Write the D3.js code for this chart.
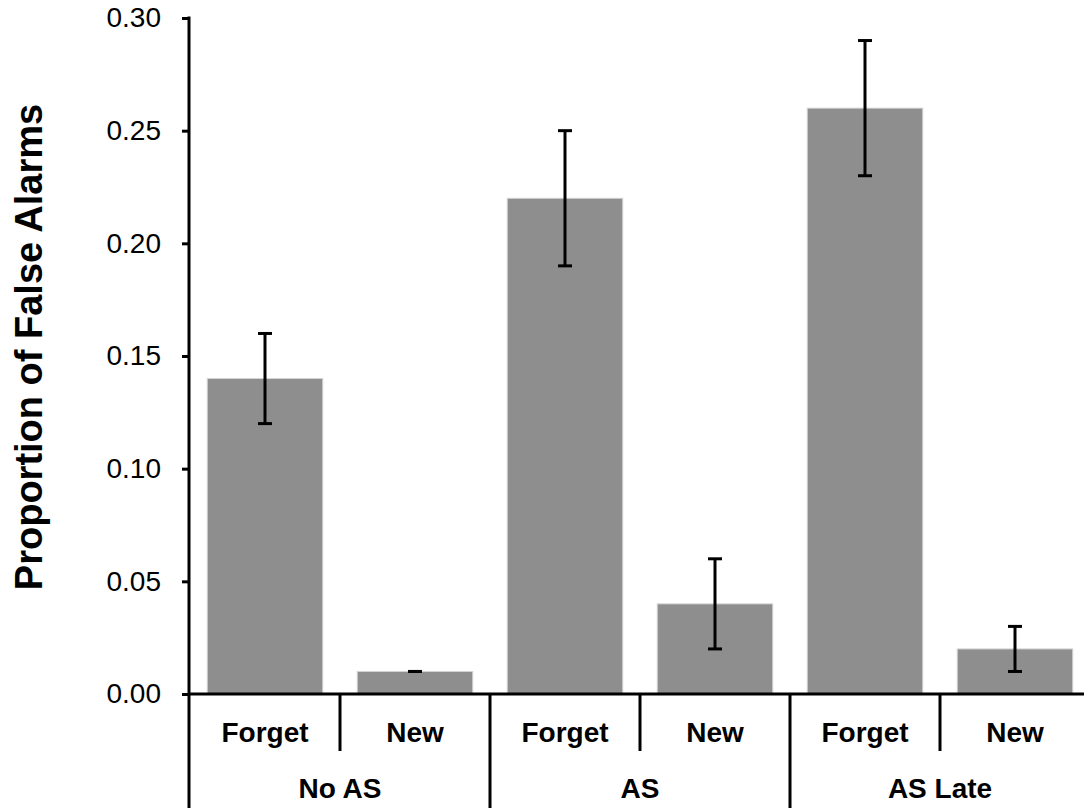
<!DOCTYPE html>
<html>
<head>
<meta charset="utf-8">
<script src="https://cdnjs.cloudflare.com/ajax/libs/d3/7.8.5/d3.min.js"></script>
<style>
  body { margin: 0; background: #fff; }
  svg { display: block; font-family: "Liberation Sans", Arial, sans-serif; }
</style>
</head>
<body>
<svg id="chart" width="1084" height="809"></svg>
<script>
// data
const groups = ['No AS', 'AS', 'AS Late']
const conditions = ['Forget', 'New']
const values = [0.14, 0.01, 0.22, 0.04, 0.26, 0.02]
const errLow = [0.12, 0.01, 0.19, 0.02, 0.23, 0.01]
const errHigh = [0.16, 0.01, 0.25, 0.06, 0.29, 0.03]
const yTicks = [0, 0.05, 0.10, 0.15, 0.20, 0.25, 0.30]

const svg = d3.select('#chart')
const axisX = 189, baseY = 694, bottom = 808

const bars = []
groups.forEach((g, gi) => conditions.forEach((c, ci) => {
  const i = gi * conditions.length + ci
  bars.push({id: g + '|' + c, group: g, cond: c, value: values[i], lo: errLow[i], hi: errHigh[i]})
}))

const x = d3.scaleBand().domain(bars.map(d => d.id)).range([190, 1090])
const y = d3.scaleLinear().domain([0, 0.30]).range([baseY, 18])
const barW = x.bandwidth() * 0.77

// bars
svg.append('g').selectAll('rect')
  .data(bars)
  .enter()
  .append('rect')
  .attr('x', d => x(d.id) + (x.bandwidth() - barW) / 2)
  .attr('y', d => y(d.value))
  .attr('width', barW)
  .attr('height', d => baseY - y(d.value))
  .style('fill', '#8e8e8e')
  .style('stroke', '#d4d4d4')
  .style('stroke-width', 1)

// error bars
const eb = svg.append('g').selectAll('g').data(bars).enter().append('g')
  .attr('transform', d => 'translate(' + (x(d.id) + x.bandwidth() / 2) + ',0)')
eb.append('line')
  .attr('y1', d => y(d.lo)).attr('y2', d => y(d.hi))
  .attr('stroke', '#000').attr('stroke-width', 3)
eb.selectAll('.cap').data(d => [d.lo, d.hi]).enter().append('line')
  .attr('x1', -7).attr('x2', 7)
  .attr('y1', v => y(v)).attr('y2', v => y(v))
  .attr('stroke', '#000').attr('stroke-width', 3)

// y axis
const yAxis = svg.append('g')
  .attr('transform', 'translate(' + axisX + ',0)')
  .call(d3.axisLeft(y).tickValues(yTicks).tickFormat(d3.format('.2f')).tickSize(7).tickPadding(21))
yAxis.select('.domain').remove()
yAxis.selectAll('.tick line').attr('stroke', '#000').attr('stroke-width', 3)
yAxis.selectAll('.tick text').style('font-size', '28px').attr('fill', '#000')

svg.append('line')
  .attr('x1', axisX).attr('x2', axisX).attr('y1', y(0.30) - 1.5).attr('y2', bottom)
  .attr('stroke', '#000').attr('stroke-width', 3)
svg.append('line')
  .attr('x1', axisX).attr('x2', 1084).attr('y1', baseY).attr('y2', baseY)
  .attr('stroke', '#000').attr('stroke-width', 3)

// category dividers and labels
bars.forEach((d, i) => {
  if (i === 0) return
  const xe = x(d.id)
  const long = d.cond === conditions[0]
  svg.append('line')
    .attr('x1', xe).attr('x2', xe).attr('y1', baseY).attr('y2', long ? bottom : 751)
    .attr('stroke', '#000').attr('stroke-width', 3)
})
svg.append('g').selectAll('text')
  .data(bars).enter().append('text')
  .attr('x', d => x(d.id) + x.bandwidth() / 2)
  .attr('y', 742)
  .attr('text-anchor', 'middle')
  .style('font-size', '28px').style('font-weight', 'bold')
  .text(d => d.cond)
svg.append('g').selectAll('text')
  .data(groups).enter().append('text')
  .attr('x', g => x(g + '|' + conditions[0]) + x.bandwidth())
  .attr('y', 798)
  .attr('text-anchor', 'middle')
  .style('font-size', '28px').style('font-weight', 'bold')
  .text(g => g)

// y title
svg.append('text')
  .attr('transform', 'translate(42,' + 347 + ') rotate(-90)')
  .attr('text-anchor', 'middle')
  .style('font-size', '38px').style('font-weight', 'bold')
  .text('Proportion of False Alarms')
</script>
</body>
</html>
